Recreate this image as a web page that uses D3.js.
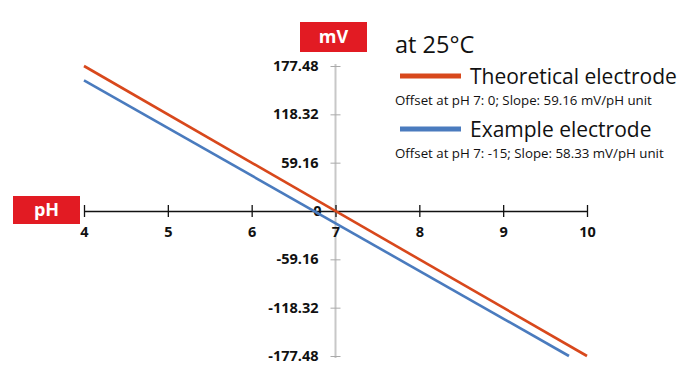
<!DOCTYPE html>
<html><head><meta charset="utf-8">
<script src="https://cdn.jsdelivr.net/npm/d3@7"></script>
<style>body{margin:0;background:#fff}svg{display:block}text{font-family:"Open Sans",sans-serif}</style>
</head><body><div id="c"></div>
<script>
const xTicks = [4,5,6,7,8,9,10];
const yTicks = [177.48,118.32,59.16,0,-59.16,-118.32,-177.48];
const yTickLabels = ["177.48","118.32","59.16","0","-59.16","-118.32","-177.48"];
const theoPH = [4,10];
const theoMV = [177.48,-177.48];
const examplePH = [4,9.785];
const exampleMV = [160,-177.48];
const seriesNames = ["Theoretical electrode","Example electrode"];
const seriesNotes = ["Offset at pH 7: 0; Slope: 59.16 mV/pH unit","Offset at pH 7: -15; Slope: 58.33 mV/pH unit"];
const colors = ["#d8481c","#4a7bbe"];

const W=700,H=387;
const svg=d3.select("#c").append("svg").attr("width",W).attr("height",H);
const x=d3.scaleLinear().domain([4,10]).range([84,587]);
const y=d3.scaleLinear().domain([-177.48,177.48]).range([356,66]);

// y axis (gray)
svg.append("line").attr("x1",x(7)).attr("x2",x(7)).attr("y1",y(177.48)-2).attr("y2",y(-177.48)+2).attr("stroke","#c8c8c8").attr("stroke-width",2);
const ya=svg.append("g").attr("transform",`translate(${x(7)},0)`)
 .call(d3.axisLeft(y).tickValues(yTicks).tickSize(0).tickFormat((d,i)=>yTickLabels[i]));
ya.select(".domain").remove();
ya.selectAll(".tick line").attr("x1",-5).attr("x2",5).attr("stroke","#aaa");
ya.selectAll(".tick text").attr("x",d=>d===0?-14:-17).attr("font-size",14.5).attr("font-weight","bold").attr("fill","#111").attr("font-family","'Open Sans',sans-serif");

// x axis
const xa=svg.append("g").attr("transform",`translate(0,${y(0)})`)
 .call(d3.axisBottom(x).tickValues(xTicks).tickSize(0).tickFormat(d3.format("d")));
xa.select(".domain").attr("stroke","#111").attr("stroke-width",1.3);
xa.selectAll(".tick line").attr("y1",-6).attr("y2",6).attr("stroke","#111").attr("stroke-width",1.3);
xa.selectAll(".tick text").attr("y",16).attr("font-size",14.5).attr("font-weight","bold").attr("fill","#111").attr("font-family","'Open Sans',sans-serif");

// lines
const line=d3.line().x(d=>x(d[0])).y(d=>y(d[1]));
const series=[d3.zip(theoPH,theoMV),d3.zip(examplePH,exampleMV)];
svg.selectAll(".s").data(series).join("path").attr("d",line).attr("fill","none")
 .attr("stroke",(d,i)=>colors[i]).attr("stroke-width",2.6);

// label boxes
function box(x0,y0,w,h,t){
 svg.append("rect").attr("x",x0).attr("y",y0).attr("width",w).attr("height",h).attr("fill","#e21b23");
 svg.append("text").attr("x",x0+w/2).attr("y",y0+h/2+6).attr("text-anchor","middle").attr("fill","#fff")
  .attr("font-size",18).attr("font-weight","bold").text(t);
}
box(300,22,67,30,"mV");
box(13,196,67,28,"pH");

// legend
svg.append("text").attr("x",395).attr("y",53).attr("font-size",23.5).attr("fill","#111").text("at 25°C");
const ly=[76,129];
series.forEach((s,i)=>{
 svg.append("line").attr("x1",400).attr("x2",461).attr("y1",ly[i]).attr("y2",ly[i]).attr("stroke",colors[i]).attr("stroke-width",5);
 svg.append("text").attr("x",470).attr("y",ly[i]+8).attr("font-size",21).attr("font-weight",500).attr("fill","#111").text(seriesNames[i]);
 svg.append("text").attr("x",395).attr("y",ly[i]+29).attr("font-size",13.3).attr("fill","#111").text(seriesNotes[i]);
});
</script></body></html>
